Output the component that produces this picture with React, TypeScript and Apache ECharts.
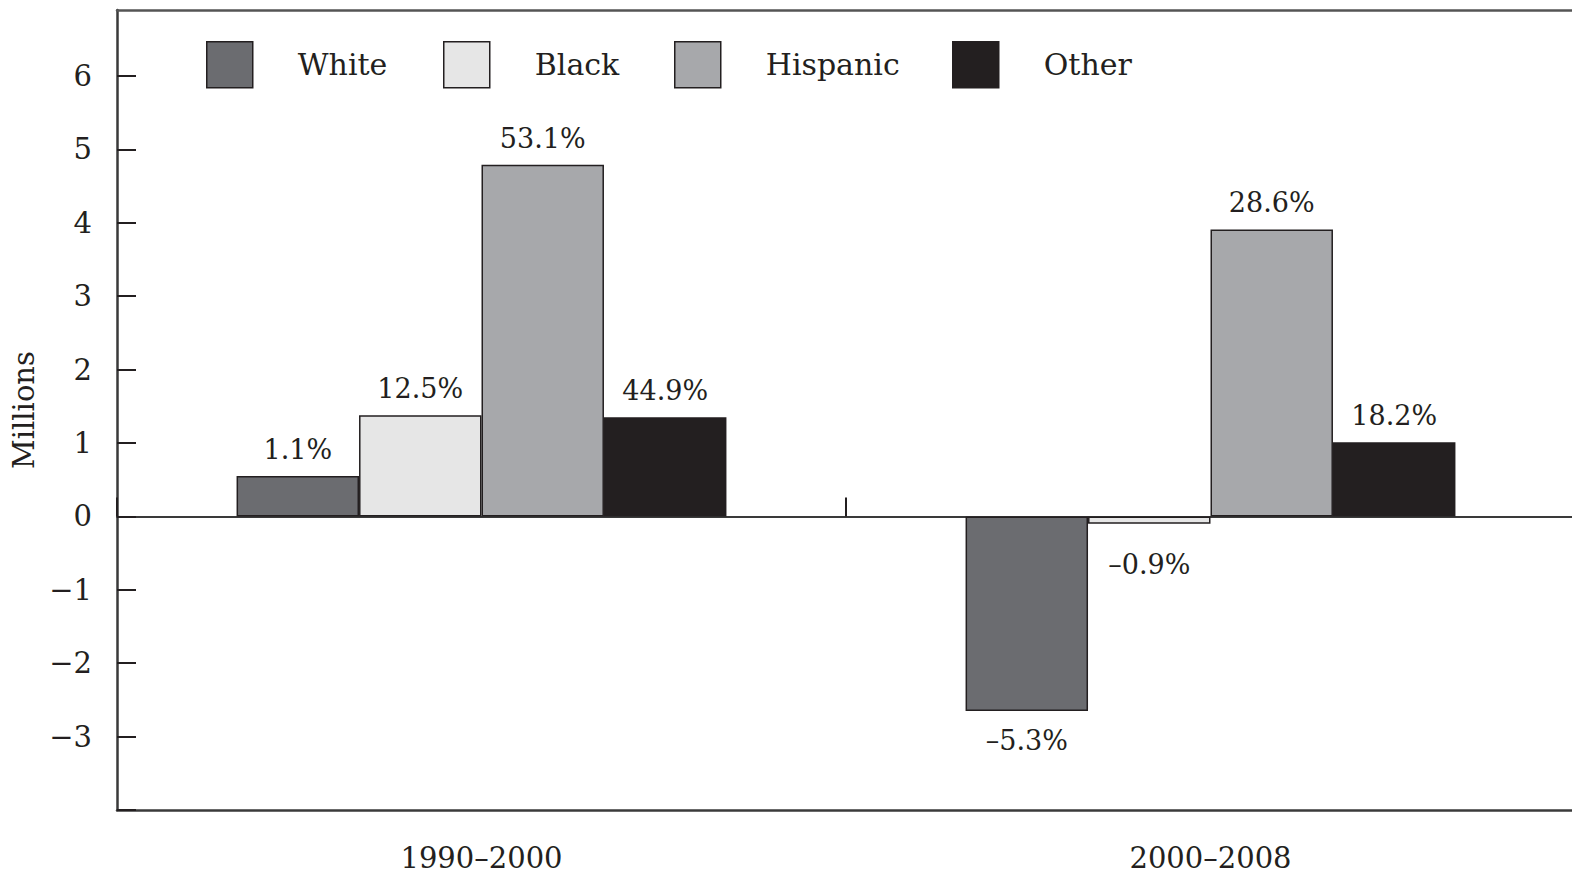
import React, { useEffect, useRef } from "react";
import * as echarts from "echarts";

const categories = ["1990–2000", "2000–2008"];
const seriesNames = ["White", "Black", "Hispanic", "Other"];
const whiteValues = [0.55, -2.65];
const blackValues = [1.38, -0.1];
const hispanicValues = [4.79, 3.91];
const otherValues = [1.35, 1.01];
const whiteLabels = ["1.1%", "–5.3%"];
const blackLabels = ["12.5%", "–0.9%"];
const hispanicLabels = ["53.1%", "28.6%"];
const otherLabels = ["44.9%", "18.2%"];
const yTickLabels = [-3, -2, -1, 0, 1, 2, 3, 4, 5, 6];

const colors = ["#6b6c70", "#e6e6e6", "#a7a8ab", "#231f20"];
const INK = "#231f20";
const FONT = "DejaVu Serif";

export default function App() {
  const ref = useRef<HTMLDivElement>(null);
  useEffect(() => {
    if (!ref.current) return;
    const chart = echarts.init(ref.current, null, { renderer: "svg" });
    const valuesList = [whiteValues, blackValues, hispanicValues, otherValues];
    const labelsList = [whiteLabels, blackLabels, hispanicLabels, otherLabels];
    const series = seriesNames.map((name, si) => ({
      name,
      type: "bar",
      xAxisIndex: 0,
      yAxisIndex: 0,
      barGap: "0%",
      barCategoryGap: "32.8%",
      itemStyle: { color: colors[si], borderColor: INK, borderWidth: 1.5 },
      data: valuesList[si].map((v, i) => ({
        value: v,
        label: {
          show: true,
          position: v >= 0 ? "top" : "bottom",
          distance: v >= 0 ? 13 : v > -0.5 ? 27 : 16,
          formatter: labelsList[si][i],
          fontFamily: FONT,
          fontSize: 27,
          color: INK,
        },
      })),
    }));
    const legendLefts = [206, 443, 674, 952];
    const legends = seriesNames.map((name, i) => ({
      data: [name],
      left: legendLefts[i],
      top: 41,
      padding: 0,
      itemWidth: 46,
      itemHeight: 46,
      icon: "rect",
      itemStyle: { borderColor: INK, borderWidth: 1.5 },
      textStyle: {
        fontFamily: FONT,
        fontSize: 30,
        color: INK,
        padding: [0, 0, 0, 40],
      },
      selectedMode: false,
    }));
    chart.setOption({
      animation: false,
      backgroundColor: "#ffffff",
      grid: {
        left: 117,
        right: -3,
        top: 10,
        bottom: 66,
        containLabel: false,
        outerBoundsMode: "none",
      },
      legend: legends,
      xAxis: [
        {
          type: "category",
          data: categories,
          position: "bottom",
          axisLine: { show: true, onZero: false, lineStyle: { color: "#3a3a3a", width: 2.5 } },
          axisTick: { show: false },
          axisLabel: {
            show: true,
            fontFamily: FONT,
            fontSize: 29,
            color: INK,
            margin: 33,
          },
          splitLine: { show: false },
        },
        {
          type: "category",
          data: categories,
          position: "bottom",
          axisLine: { show: true, onZero: true, lineStyle: { color: "#3a3a3a", width: 2 } },
          axisTick: { show: true, inside: true, length: 19, lineStyle: { color: INK, width: 2 } },
          axisLabel: { show: false },
          splitLine: { show: false },
        },
        {
          type: "category",
          data: categories,
          position: "top",
          axisLine: { show: true, onZero: false, lineStyle: { color: "#555555", width: 2.5 } },
          axisTick: { show: false },
          axisLabel: { show: false },
          splitLine: { show: false },
        },
      ],
      yAxis: {
        type: "value",
        min: -4,
        max: 6.9,
        interval: 1,
        name: "Millions",
        nameLocation: "middle",
        nameGap: 67,
        nameRotate: 90,
        nameTextStyle: { fontFamily: FONT, fontSize: 29, color: INK },
        axisLine: { show: true, onZero: false, lineStyle: { color: "#3a3a3a", width: 2.5 } },
        axisTick: { show: true, inside: true, length: 19, lineStyle: { color: INK, width: 2 } },
        axisLabel: {
          show: true,
          fontFamily: FONT,
          fontSize: 29,
          color: INK,
          margin: 25,
          showMaxLabel: false,
          formatter: (v: number) =>
            yTickLabels.includes(v) ? (v < 0 ? "−" + Math.abs(v) : String(v)) : "",
        },
        splitLine: { show: false },
      },
      series,
    });
    return () => chart.dispose();
  }, []);
  return (
    <div
      ref={ref}
      style={{ position: "absolute", left: 0, top: 0, width: 1572, height: 876 }}
    />
  );
}
